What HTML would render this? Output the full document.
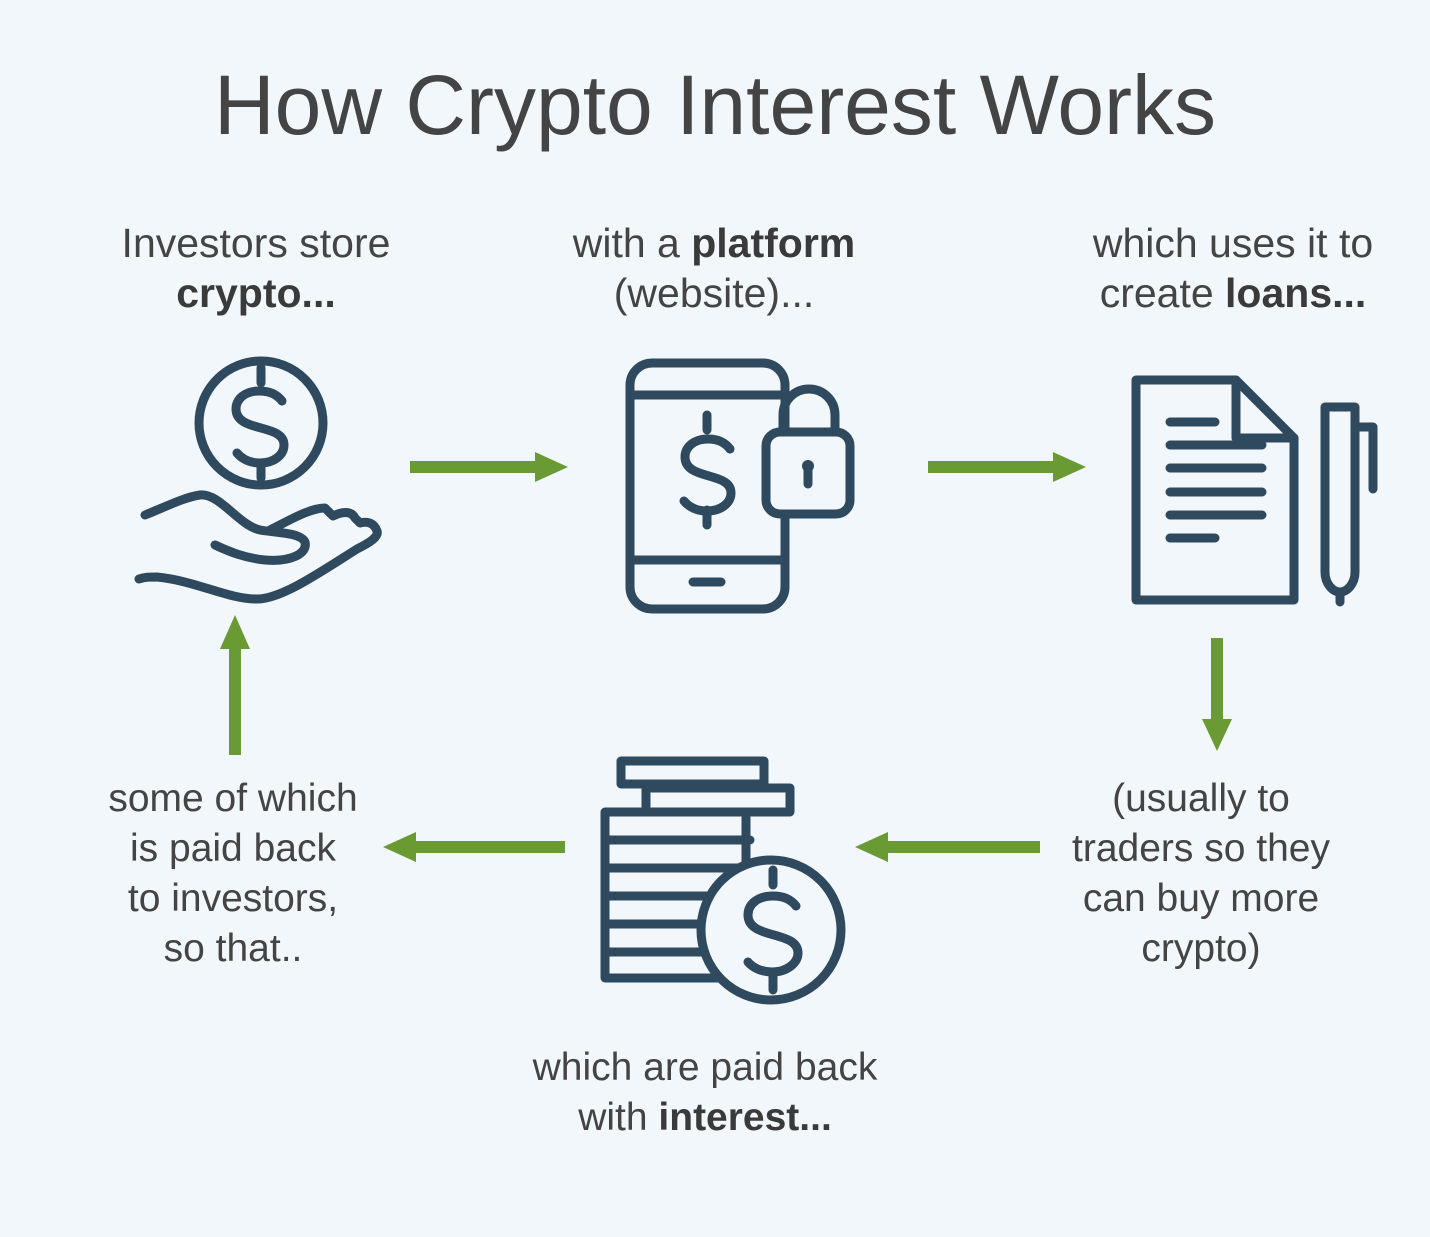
<!DOCTYPE html>
<html><head><style>
body{margin:0;width:1430px;height:1237px;background:#f2f7fc;overflow:hidden;position:relative;font-family:"Liberation Sans",sans-serif;color:#444}
.t{position:absolute;text-align:center;font-size:39px;line-height:50px;color:#444}
.u{font-size:41px}
b{color:#3a3a3a}
h1{position:absolute;top:57px;left:0;width:1430px;text-align:center;margin:0;font-weight:normal;font-size:84px;color:#444}
</style></head><body>
<h1>How Crypto Interest Works</h1>
<div class="t u" style="left:56px;top:218px;width:400px">Investors store<br><b>crypto...</b></div>
<div class="t u" style="left:514px;top:218px;width:400px">with a <b>platform</b><br>(website)...</div>
<div class="t u" style="left:1033px;top:218px;width:400px">which uses it to<br>create <b>loans...</b></div>
<div class="t" style="left:33px;top:774px;width:400px">some of which<br>is paid back<br>to investors,<br>so that..</div>
<div class="t" style="left:1001px;top:774px;width:400px">(usually to<br>traders so they<br>can buy more<br>crypto)</div>
<div class="t" style="left:505px;top:1043px;width:400px">which are paid back<br>with <b>interest...</b></div>
<svg width="1430" height="1237" style="position:absolute;left:0;top:0" fill="none" stroke="#2f4a5e" stroke-width="9" stroke-linecap="round" stroke-linejoin="round">
<circle cx="261" cy="423" r="62"/>
<path d="M282 401c-6-8-15-10-23-10c-14 0-23 8-23 18c0 24 48 14 48 36c0 10-10 18-24 18c-10 0-18-4-23-10M261 383v-15M261 463v15"/>
<path d="M145 515c20-8 40-18 55-20c20-2 38 30 60 35c15 3 40 2 45 12c3 12-15 20-40 18c-20-2-35-8-50-15"/>
<path d="M270 530c20-10 40-22 55-22l8 8c8-4 18-6 22 2l5 5c8-2 14 0 17 8c2 6-8 12-20 18c-35 22-75 50-100 50c-30 0-60-18-100-22c-8 0-12 0-18 2"/>
<rect x="630" y="363" width="155" height="246" rx="22"/>
<path d="M630 395h155M630 560h155M693 582h28"/>
<path d="M730 449c-6-8-14-10-22-10c-14 0-23 8-23 18c0 24 46 14 46 36c0 10-10 18-24 18c-10 0-18-4-23-10M707 430v-15M707 510v15"/>
<rect x="766" y="432" width="84" height="82" rx="14" fill="#f2f7fc"/>
<path d="M783 432v-17c0-15 12-26 26-26s26 11 26 26v17"/>
<circle cx="808" cy="466" r="6" fill="#2f4a5e" stroke="none"/><path d="M808 468v16"/>
<path d="M1136 380h100l58 58v162h-158z"/>
<path d="M1236 380v58h58"/>
<path d="M1170 422h45M1170 445h92M1170 468h92M1170 492h92M1170 515h92M1170 538h45"/>
<path d="M1325 407h30v165c0 12-8 20-15 20s-15-8-15-20zM1355 427h18v62M1340 592v10"/>
<rect x="621" y="761" width="143" height="23"/>
<rect x="646" y="788" width="144" height="24"/>
<path d="M746 812h-141v166h145M605 840h145M605 868h135M605 896h105M605 924h95M605 952h100M746 812v50"/>
<circle cx="771" cy="930" r="70" fill="#f2f7fc"/>
<path d="M796 906c-6-8-15-10-23-10c-15 0-25 8-25 19c0 25 50 15 50 38c0 10-11 19-26 19c-10 0-19-4-24-10M773 885v-15M773 976v14"/>
</svg>
<svg width="1430" height="1237" style="position:absolute;left:0;top:0" fill="#6a9a33">
<rect x="410" y="461" width="126" height="12"/><polygon points="535,452 568,467 535,482"/>
<rect x="928" y="461" width="126" height="12"/><polygon points="1053,452 1086,467 1053,482"/>
<rect x="1211" y="638" width="12" height="82"/><polygon points="1202,719 1217,751 1232,719"/>
<rect x="887" y="841" width="153" height="12"/><polygon points="888,832 855,847 888,862"/>
<rect x="415" y="841" width="150" height="12"/><polygon points="416,832 383,847 416,862"/>
<rect x="229" y="648" width="12" height="107"/><polygon points="220,649 235,615 250,649"/>
</svg>
</body></html>
